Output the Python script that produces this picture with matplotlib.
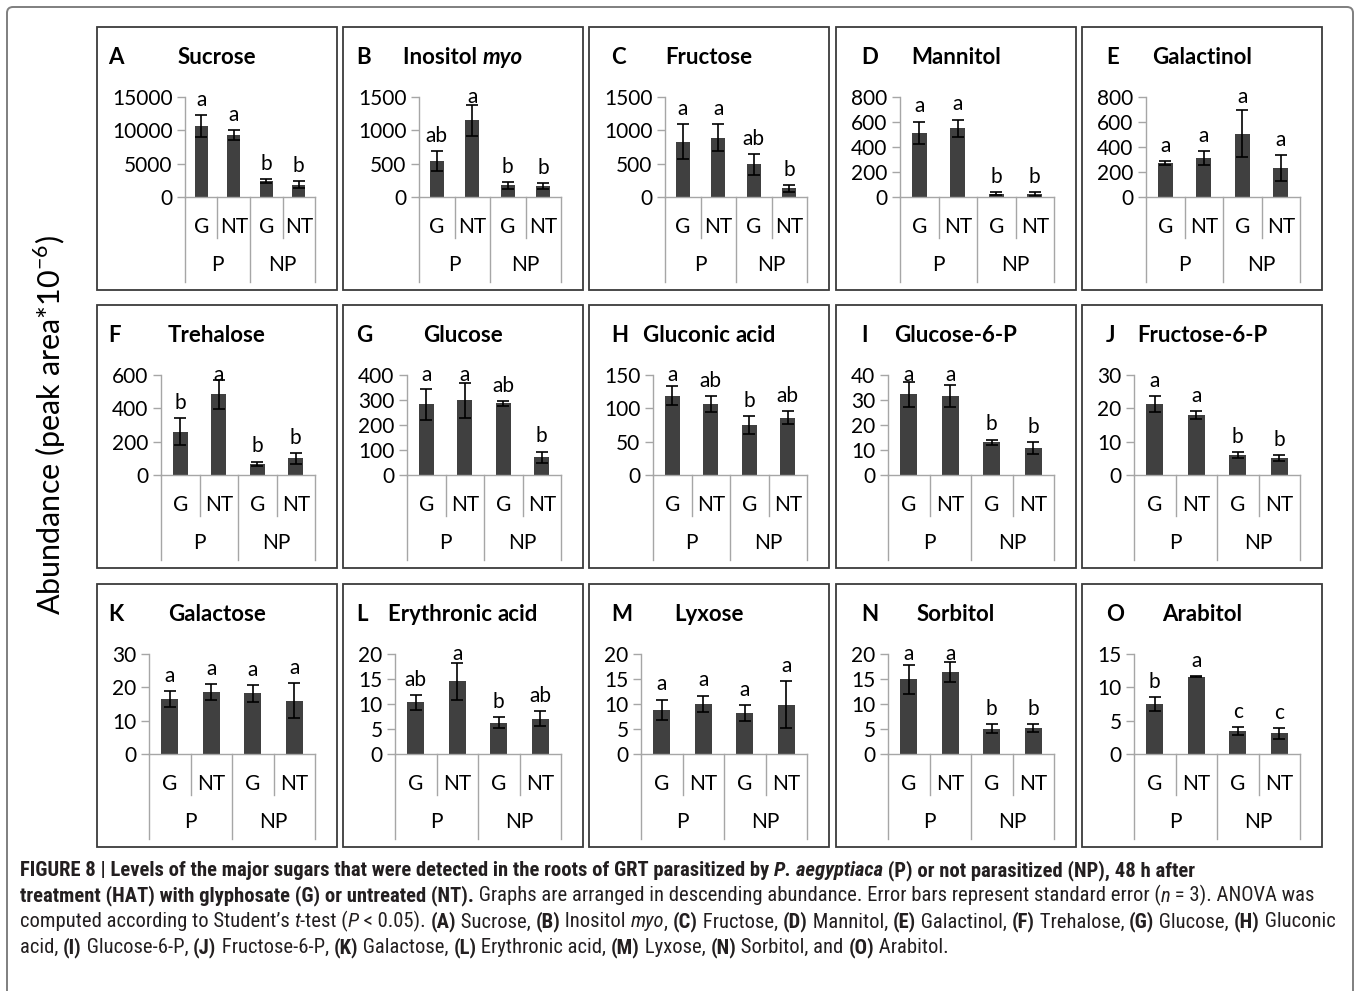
import matplotlib
matplotlib.use("Agg")
import numpy as np
from matplotlib import pyplot as plt
from matplotlib import font_manager
from matplotlib.patches import Rectangle, FancyBboxPatch
from matplotlib.transforms import IdentityTransform

# ---- data ----
panel_ids = list("ABCDEFGHIJKLMNO")
compounds = ["Sucrose", "Inositol myo", "Fructose", "Mannitol", "Galactinol",
             "Trehalose", "Glucose", "Gluconic acid", "Glucose-6-P", "Fructose-6-P",
             "Galactose", "Erythronic acid", "Lyxose", "Sorbitol", "Arabitol"]
treatments = ["G", "NT", "G", "NT"]
groups = ["P", "NP"]

y_max = [15000, 1500, 1500, 800, 800, 600, 400, 150, 40, 30, 30, 20, 20, 20, 15]
y_step = [5000, 500, 500, 200, 200, 200, 100, 50, 10, 10, 10, 5, 5, 5, 5]

means = [
    [10700, 9300, 2450, 1850],
    [540, 1150, 175, 165],
    [830, 890, 490, 130],
    [515, 550, 25, 25],
    [275, 312, 505, 230],
    [259, 484, 68, 100],
    [284, 300, 287, 72],
    [119, 107, 75, 86],
    [32.4, 31.6, 13.2, 10.8],
    [21.3, 18.0, 6.0, 5.1],
    [16.5, 18.7, 18.2, 16.0],
    [10.4, 14.6, 6.3, 7.1],
    [8.9, 10.1, 8.2, 9.9],
    [15.0, 16.5, 5.1, 5.2],
    [7.5, 11.6, 3.5, 3.1],
]
errors = [
    [1650, 700, 280, 560],
    [150, 230, 50, 50],
    [260, 200, 160, 50],
    [89, 70, 12, 14],
    [17, 55, 188, 103],
    [81, 86, 13, 33],
    [62, 70, 10, 22],
    [14, 12, 13, 10],
    [5.0, 4.5, 1.0, 2.5],
    [2.4, 1.3, 1.0, 1.0],
    [2.5, 2.4, 2.5, 5.3],
    [1.5, 3.7, 1.1, 1.5],
    [2.0, 1.6, 1.6, 4.7],
    [2.9, 2.0, 0.9, 0.8],
    [1.0, 0.05, 0.6, 0.85],
]
sig_letters = [
    ["a", "a", "b", "b"], ["ab", "a", "b", "b"], ["a", "a", "ab", "b"],
    ["a", "a", "b", "b"], ["a", "a", "a", "a"], ["b", "a", "b", "b"],
    ["a", "a", "ab", "b"], ["a", "ab", "b", "ab"], ["a", "a", "b", "b"],
    ["a", "a", "b", "b"], ["a", "a", "a", "a"], ["ab", "a", "b", "ab"],
    ["a", "a", "a", "a"], ["a", "a", "b", "b"], ["b", "a", "c", "c"],
]
italic_words = {"myo"}

# ---- layout (pixels) ----
W, H = 1360, 991
box_left = [97, 343, 589, 836, 1082]
box_top = [27, 305, 584]
box_w, box_h = 240, 263
id_x = [108, 356, 611, 861, 1106]

bar_col = "#404040"
axis_col = "#a6a6a6"
font = "Lato"

installed = {f.name for f in font_manager.fontManager.ttflist}
cap_family = "Roboto"
for name in ["Liberation Sans Narrow", "Roboto Condensed"]:
    if name in installed:
        cap_family = name
        break

plt.rcParams["font.family"] = [font, "DejaVu Sans"]
plt.rcParams["mathtext.fontset"] = "custom"
plt.rcParams["mathtext.rm"] = font

fig = plt.figure(figsize=(W / 100, H / 100), dpi=100)
renderer = fig.canvas.get_renderer()


def fx(x):
    return x / W


def fy(y):
    return 1 - y / H


def text_w(s, **kw):
    t = fig.text(0, 0, s, **kw)
    w = t.get_window_extent(renderer).width
    t.remove()
    return w


def run_w(s, **kw):
    return text_w("x" + s + "x", **kw) - text_w("xx", **kw)


def line_w(runs, size, family):
    return sum(run_w(s, fontsize=size, fontweight=wt, fontstyle=st, family=family)
               for s, wt, st in runs)


def draw_runs(runs, x, y, size, family, ha="left", color="black"):
    widths = []
    for s, wt, st in runs:
        widths.append(run_w(s, fontsize=size, fontweight=wt, fontstyle=st, family=family))
    if ha == "center":
        x -= sum(widths) / 2
    for (s, wt, st), wd in zip(runs, widths):
        fig.text(fx(x), fy(y), s, fontsize=size, fontweight=wt, fontstyle=st,
                 family=family, va="baseline", ha="left", color=color)
        x += wd
    return sum(widths)


# outer frame
frame = FancyBboxPatch((7, -20), W - 14, H - 7 + 20,
                       boxstyle="round,pad=0,rounding_size=6",
                       transform=IdentityTransform(), fill=False,
                       ec="#7f7f7f", lw=1.4)
fig.add_artist(frame)

x_pos = np.arange(4)
for i in range(15):
    row, col = divmod(i, 5)
    bx, by = box_left[col], box_top[row]
    fig.add_artist(Rectangle((bx, H - by - box_h), box_w, box_h,
                             transform=IdentityTransform(), fill=False,
                             ec="#3a3a3a", lw=1.3))

    nchar = len(str(y_max[i]))
    ax_l = bx + 28 + 12 * nchar
    ax_r = bx + 218
    ax_t = by + 70
    ax_z = by + 170
    hpx = ax_z - ax_t
    ax = fig.add_axes([fx(ax_l), fy(ax_z), (ax_r - ax_l) / W, hpx / H])
    ax.patch.set_alpha(0)

    ax.bar(x_pos, means[i], width=0.4, color=bar_col, yerr=errors[i],
           error_kw=dict(ecolor="black", elinewidth=1.2, capsize=4, capthick=1.2))

    # significance letters: a little above the error bar, kept near the top of the plot
    ppu = hpx / y_max[i]
    for xi, m, e, lab in zip(x_pos, means[i], errors[i], sig_letters[i]):
        base_px = min((m + e) * ppu + 9, hpx - 6)
        ax.text(xi, base_px / ppu, lab, ha="center", va="baseline", fontsize=15,
                clip_on=False)

    ax.set_xlim(-0.5, 3.5)
    ax.set_ylim(0, y_max[i])
    ticks = np.arange(0, y_max[i] + 1e-9, y_step[i])
    ax.set_yticks(ticks)
    ax.set_yticklabels([f"{v:g}" for v in ticks])
    ax.set_xticks([])
    for s in ["top", "right"]:
        ax.spines[s].set_visible(False)
    for s in ["left", "bottom"]:
        ax.spines[s].set_color(axis_col)
        ax.spines[s].set_linewidth(1.0)
    ax.tick_params(axis="y", length=6, width=1.0, color=axis_col, labelsize=15, pad=3)

    # two-level category axis
    tr = ax.get_xaxis_transform()
    for xs in [-0.5, 1.5, 3.5]:
        ax.plot([xs, xs], [0, -85 / hpx], color=axis_col, lw=1.0,
                transform=tr, clip_on=False)
    for xs in [0.5, 2.5]:
        ax.plot([xs, xs], [0, -41 / hpx], color=axis_col, lw=1.0,
                transform=tr, clip_on=False)
    for xi, lab in zip(x_pos, treatments):
        ax.text(xi, -30 / hpx, lab, transform=tr, ha="center", va="center", fontsize=15)
    for xg, lab in zip([0.5, 2.5], groups):
        ax.text(xg, -68 / hpx, lab, transform=tr, ha="center", va="center", fontsize=15)

    # panel titles
    base = by + 37
    fig.text(fx(id_x[col]), fy(base), panel_ids[i], fontsize=16, fontweight="bold",
             va="baseline", ha="left")
    runs = []
    words = compounds[i].split(" ")
    for k, wd in enumerate(words):
        txt = wd + (" " if k < len(words) - 1 else "")
        runs.append((txt, "bold", "italic" if wd in italic_words else "normal"))
    draw_runs(runs, bx + box_w / 2, base, 16, font, ha="center")

fig.text(fx(50), fy(425), "Abundance (peak area*10$^{\\mathrm{-6}}$)", rotation=90,
         ha="center", va="center", fontsize=22)

# ---- caption ----
B, R, I, BI = ("bold", "normal"), ("normal", "normal"), ("normal", "italic"), ("bold", "italic")
cap_lines = [
    [("FIGURE 8 | Levels of the major sugars that were detected in the roots of GRT parasitized by ", B),
     ("P. aegyptiaca", BI), (" (P) or not parasitized (NP), 48 h after", B)],
    [("treatment (HAT) with glyphosate (G) or untreated (NT).", B),
     (" Graphs are arranged in descending abundance. Error bars represent standard error (", R),
     ("n", I), (" = 3). ANOVA was", R)],
    [("computed according to Student\u2019s ", R), ("t", I), ("-test (", R), ("P", I),
     (" < 0.05). ", R), ("(A)", B), (" Sucrose, ", R), ("(B)", B), (" Inositol ", R),
     ("myo", I), (", ", R), ("(C)", B), (" Fructose, ", R), ("(D)", B), (" Mannitol, ", R),
     ("(E)", B), (" Galactinol, ", R), ("(F)", B), (" Trehalose, ", R), ("(G)", B),
     (" Glucose, ", R), ("(H)", B), (" Gluconic", R)],
    [("acid, ", R), ("(I)", B), (" Glucose-6-P, ", R), ("(J)", B), (" Fructose-6-P, ", R),
     ("(K)", B), (" Galactose, ", R), ("(L)", B), (" Erythronic acid, ", R), ("(M)", B),
     (" Lyxose, ", R), ("(N)", B), (" Sorbitol, and ", R), ("(O)", B), (" Arabitol.", R)],
]
cap_lines = [[(s, st[0], st[1]) for s, st in line] for line in cap_lines]
cap_targets = [1260, 1315, 1310, 860]

ratios = [t / line_w(line, 10, cap_family) for line, t in zip(cap_lines, cap_targets)]
cap_size = 10 * min(ratios[1], ratios[2])
for k, line in enumerate(cap_lines):
    draw_runs(line, 20, 876 + 25.7 * k, cap_size, cap_family, color="#231f20")

fig.savefig("out.png", dpi=100)
